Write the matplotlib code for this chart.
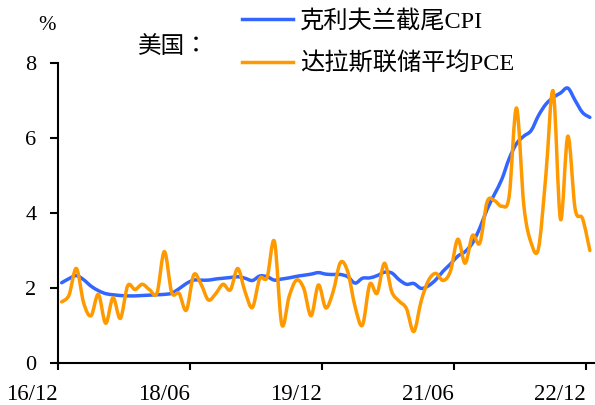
import matplotlib
matplotlib.use("Agg")
import matplotlib.pyplot as plt
from matplotlib.path import Path
from matplotlib.patches import PathPatch
from matplotlib.lines import Line2D

# monthly data, 2016/12 .. 2022/12
months = [f"{16 + (11 + k) // 12:02d}/{(11 + k) % 12 + 1:02d}" for k in range(73)]

cleveland_cpi = [
    2.14, 2.25, 2.33, 2.22, 2.05, 1.93, 1.85, 1.82, 1.80, 1.79,
    1.79, 1.80, 1.81, 1.82, 1.83, 1.86, 1.98, 2.12, 2.21, 2.21,
    2.21, 2.24, 2.26, 2.28, 2.30, 2.26, 2.20, 2.32, 2.30, 2.21,
    2.24, 2.27, 2.31, 2.34, 2.37, 2.41, 2.37, 2.36, 2.36, 2.30,
    2.13, 2.26, 2.27, 2.33, 2.42, 2.40, 2.22, 2.10, 2.12, 1.99,
    2.06, 2.22, 2.45, 2.64, 2.85, 2.97, 3.20, 3.60, 4.10, 4.50,
    4.90, 5.45, 5.85, 6.05, 6.20, 6.60, 6.90, 7.08, 7.20, 7.33,
    7.00, 6.68, 6.55,
]

dallas_pce = [
    1.63, 1.81, 2.52, 1.60, 1.26, 1.83, 1.06, 1.74, 1.19, 2.06,
    1.96, 2.10, 1.95, 1.87, 2.97, 1.88, 1.86, 1.41, 2.35, 2.10,
    1.68, 1.85, 2.10, 1.95, 2.52, 1.90, 1.48, 2.25, 2.28, 3.24,
    1.03, 1.77, 2.21, 1.99, 1.26, 2.08, 1.47, 1.90, 2.68, 2.43,
    1.50, 1.01, 2.10, 1.86, 2.66, 1.90, 1.65, 1.45, 0.84, 1.65,
    2.20, 2.39, 2.20, 2.45, 3.30, 2.66, 3.40, 3.20, 4.30, 4.33,
    4.18, 4.45, 6.80, 4.20, 3.20, 3.06, 5.00, 7.25, 3.83, 6.05,
    4.10, 3.85, 3.00,
]

tick_labels = ["16/12", "18/06", "19/12", "21/06", "22/12"]
tick_every = 18

BLUE = "#3366FF"
ORANGE = "#FF9900"
SERIF = ["Liberation Serif", "Noto Sans CJK SC"]

plt.rcParams["font.family"] = SERIF


def smooth_path(xs, ys):
    """Smoothed line through the points (Catmull-Rom as cubic Bezier)."""
    n = len(xs)
    verts = [(xs[0], ys[0])]
    codes = [Path.MOVETO]
    for k in range(n - 1):
        a = max(k - 1, 0)
        b = min(k + 2, n - 1)
        c1 = (xs[k] + (xs[k + 1] - xs[a]) / 6, ys[k] + (ys[k + 1] - ys[a]) / 6)
        c2 = (xs[k + 1] - (xs[b] - xs[k]) / 6, ys[k + 1] - (ys[b] - ys[k]) / 6)
        verts += [c1, c2, (xs[k + 1], ys[k + 1])]
        codes += [Path.CURVE4] * 3
    return Path(verts, codes)


fig = plt.figure(figsize=(5.95, 4.05), dpi=100)
ax = fig.add_axes([58 / 595, 1 - 363 / 405, 537 / 595, 300 / 405])

x = list(range(len(months)))
for series, color in [(cleveland_cpi, BLUE), (dallas_pce, ORANGE)]:
    ax.add_patch(PathPatch(smooth_path(x, series), facecolor="none",
                           edgecolor=color, lw=2.5, capstyle="round",
                           joinstyle="round"))

ax.set_xlim(-0.5, len(months) - 0.3)
ax.set_ylim(0, 8)
ax.set_yticks([0, 2, 4, 6, 8])
ax.set_xticks([k * tick_every - 0.5 for k in range(len(tick_labels))])
ax.set_xticklabels(tick_labels, ha="right")

for side in ["top", "right"]:
    ax.spines[side].set_visible(False)
for side in ["left", "bottom"]:
    ax.spines[side].set_linewidth(1.5)

ax.tick_params(axis="x", direction="out", length=5, width=1.5, pad=10,
               labelsize=16.5)
ax.tick_params(axis="y", direction="out", length=5.5, width=1.5, pad=10,
               labelsize=16)

# legend
handles = [Line2D([], [], color=BLUE, lw=2.5),
           Line2D([], [], color=ORANGE, lw=2.5)]
labels = ["克利夫兰截尾CPI", "达拉斯联储平均PCE"]
fig.legend(handles, labels, loc="upper left",
           bbox_to_anchor=(242 / 595, 1 - 10 / 405),
           bbox_transform=fig.transFigure, frameon=False,
           fontsize=17.5, handlelength=2.1, handletextpad=0.3,
           labelspacing=0.82, borderpad=0, borderaxespad=0)

fig.text(47 / 595, 1 - 25 / 405, "%", ha="center", va="center", fontsize=15)
fig.text(138 / 595, 1 - 48 / 405, "美国：", ha="left", va="center",
         fontsize=17, family=["Liberation Serif", "Noto Sans CJK TC"])

fig.savefig("out.png", dpi=100)
